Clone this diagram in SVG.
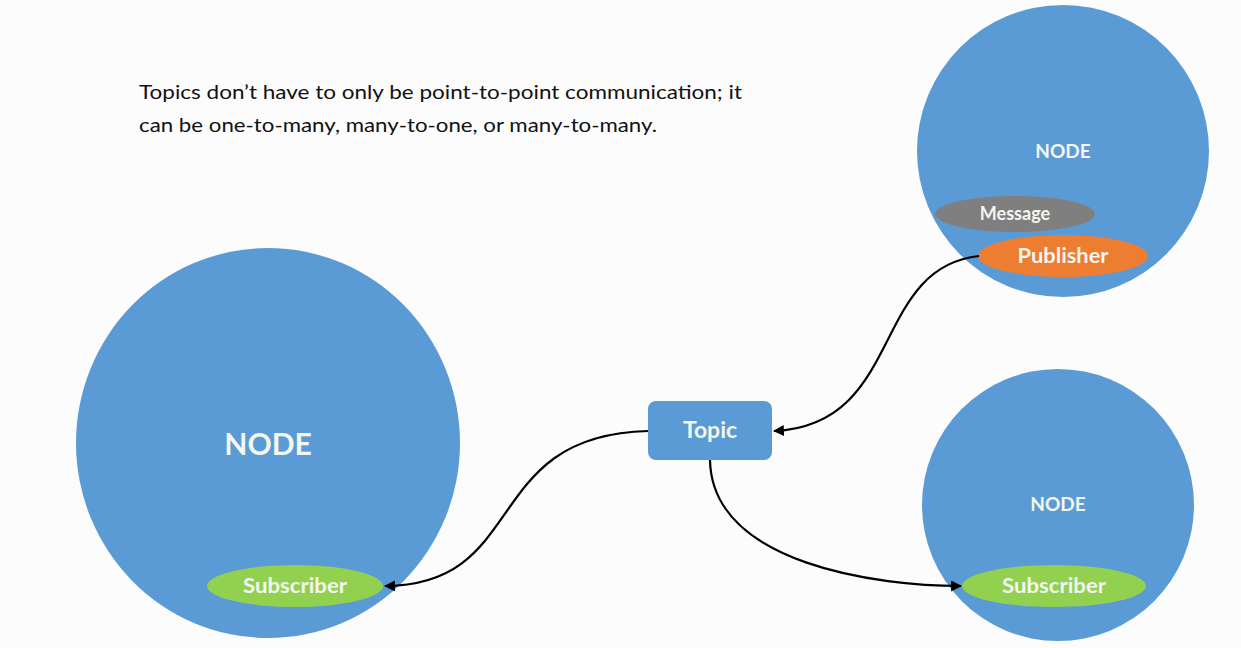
<svg xmlns="http://www.w3.org/2000/svg" width="1241" height="648" viewBox="0 0 1241 648">
<style>
.node{fill:#5b9bd5}
.lbl{font-family:Lato,"Open Sans","Liberation Sans",sans-serif;font-weight:bold;fill:#f4f6f0;text-anchor:middle}
.sub{fill:#92d050}
.conn{fill:none;stroke:#000;stroke-width:2.2}
.note{font-family:Lato,"Open Sans","Liberation Sans",sans-serif;font-size:20px;fill:#111}
</style>
<defs>
<marker id="arr" viewBox="0 0 10 10" refX="9" refY="5" markerWidth="5" markerHeight="5" orient="auto" markerUnits="strokeWidth">
<path d="M0,0 L10,5 L0,10 z" fill="#000"/>
</marker>
</defs>
<rect x="0" y="0" width="1241" height="648" fill="#fcfcfd"/>
<text class="note" x="139" y="99" textLength="603" lengthAdjust="spacingAndGlyphs">Topics don’t have to only be point-to-point communication; it</text>
<text class="note" x="139" y="132" textLength="518" lengthAdjust="spacingAndGlyphs">can be one-to-many, many-to-one, or many-to-many.</text>

<g id="node-left">
<ellipse class="node" cx="268" cy="443" rx="192" ry="195"/>
<text class="lbl" x="268" y="455" font-size="30">NODE</text>
</g>
<g id="subscriber-left">
<ellipse class="sub" cx="295" cy="586" rx="88" ry="21"/>
<text class="lbl" x="295" y="593" font-size="20" textLength="104" lengthAdjust="spacingAndGlyphs">Subscriber</text>
</g>

<g id="node-top-right">
<ellipse class="node" cx="1063" cy="151" rx="146" ry="146"/>
<text class="lbl" x="1063" y="158" font-size="19">NODE</text>
</g>
<g id="message">
<ellipse cx="1015" cy="214" rx="80" ry="18" fill="#7f7f7f"/>
<text class="lbl" x="1015" y="220" font-size="18">Message</text>
</g>
<g id="publisher">
<ellipse cx="1063" cy="256" rx="85" ry="21" fill="#ed7d31"/>
<text class="lbl" x="1063" y="263" font-size="20" textLength="91" lengthAdjust="spacingAndGlyphs">Publisher</text>
</g>

<g id="node-bottom-right">
<ellipse class="node" cx="1058" cy="505" rx="136" ry="136"/>
<text class="lbl" x="1058" y="511" font-size="19">NODE</text>
</g>
<g id="subscriber-right">
<ellipse class="sub" cx="1054" cy="586" rx="92" ry="21"/>
<text class="lbl" x="1054" y="593" font-size="20" textLength="104" lengthAdjust="spacingAndGlyphs">Subscriber</text>
</g>

<g id="topic">
<rect class="node" x="648" y="401" width="124" height="59" rx="8"/>
<text class="lbl" x="710" y="438" font-size="23">Topic</text>
</g>

<g id="connectors">
<path class="conn" d="M979,256 C870,268 905,425 774,431" marker-end="url(#arr)"/>
<path class="conn" d="M648,431 C480,435 530,585 385,586" marker-end="url(#arr)"/>
<path class="conn" d="M710,460 C712,565 880,586 961,586" marker-end="url(#arr)"/>
</g>
</svg>
